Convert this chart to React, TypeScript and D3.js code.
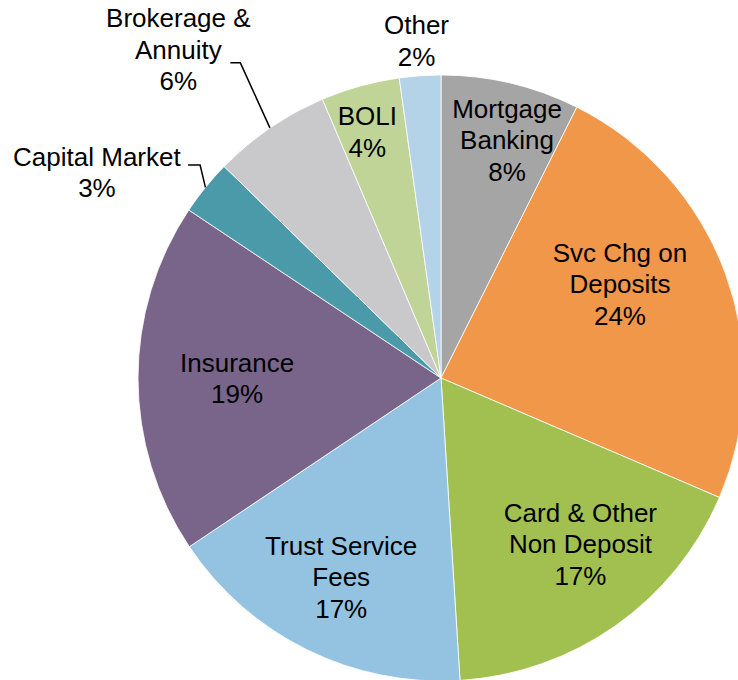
import React from "react";
import * as d3 from "d3";

const categories = [
  "Mortgage\nBanking",
  "Svc Chg on\nDeposits",
  "Card & Other\nNon Deposit",
  "Trust Service\nFees",
  "Insurance",
  "Capital Market",
  "Brokerage &\nAnnuity",
  "BOLI",
  "Other",
];
const values = [7.4, 24.05, 17.55, 16.6, 18.75, 2.95, 6.3, 4.2, 2.2];
const pctLabels = ["8%", "24%", "17%", "17%", "19%", "3%", "6%", "4%", "2%"];
const colors = ["#A5A5A5", "#F0974A", "#A1C04F", "#94C3E1", "#786589", "#4B9AAA", "#C9C9CC", "#BFD496", "#B4D3E8"];

// label layout: radius fraction and angle offset (degrees) relative to slice mid-angle
const labelRadius = [0.815, 0.667, 0.716, 0.736, 0.673, 1.323, 1.387, 0.848, 1.115];
const labelAngleOffset = [2.2, -7.6, -4.8, 0.3, 0, -8.1, -4.3, -1.2, -0.2];
// leader lines (only for outside labels): elbow radius fraction, elbow angle offset
const leaders: Record<number, { er: number; ea: number; len: number }> = {
  5: { er: 1.061, ea: 2.5, len: 12 },
  6: { er: 1.233, ea: 1.9, len: 10 },
};

const W = 738;
const H = 680;
const cx = 441;
const cy = 378;
const R = 303;
const FONT = 26;
const LH = 31.5;

export default function App() {
  const pie = d3.pie<number>().sort(null).value((d) => d)(values);
  const arc = d3.arc<d3.PieArcDatum<number>>().innerRadius(0).outerRadius(R);
  const polar = (angRad: number, r: number): [number, number] => [
    cx + r * Math.sin(angRad),
    cy - r * Math.cos(angRad),
  ];

  return (
    <svg
      width={W}
      height={H}
      style={{ position: "absolute", left: 0, top: 0, background: "#fff" }}
      fontFamily="'Liberation Sans', Arial, sans-serif"
    >
      <g transform={`translate(${cx},${cy})`}>
        {pie.map((p, i) => (
          <path key={i} d={arc(p) || ""} fill={colors[i]} stroke="#ffffff" strokeWidth={0.8} />
        ))}
      </g>
      {pie.map((p, i) => {
        const lead = leaders[i];
        if (!lead) return null;
        const mid = (p.startAngle + p.endAngle) / 2;
        const [px, py] = polar(mid, R);
        const [ex, ey] = polar(mid + (lead.ea * Math.PI) / 180, lead.er * R);
        return (
          <polyline
            key={"l" + i}
            points={`${ex - lead.len},${ey} ${ex},${ey} ${px},${py}`}
            fill="none"
            stroke="#000"
            strokeWidth={1.5}
          />
        );
      })}
      {pie.map((p, i) => {
        const mid = (p.startAngle + p.endAngle) / 2 + (labelAngleOffset[i] * Math.PI) / 180;
        const [lx, ly] = polar(mid, labelRadius[i] * R);
        const lines = [...categories[i].split("\n"), pctLabels[i]];
        const n = lines.length;
        return (
          <text key={"t" + i} textAnchor="middle" fontSize={FONT} fill="#000">
            {lines.map((ln, j) => (
              <tspan key={j} x={lx} y={ly + (j - (n - 1) / 2) * LH} dominantBaseline="central">
                {ln}
              </tspan>
            ))}
          </text>
        );
      })}
    </svg>
  );
}
